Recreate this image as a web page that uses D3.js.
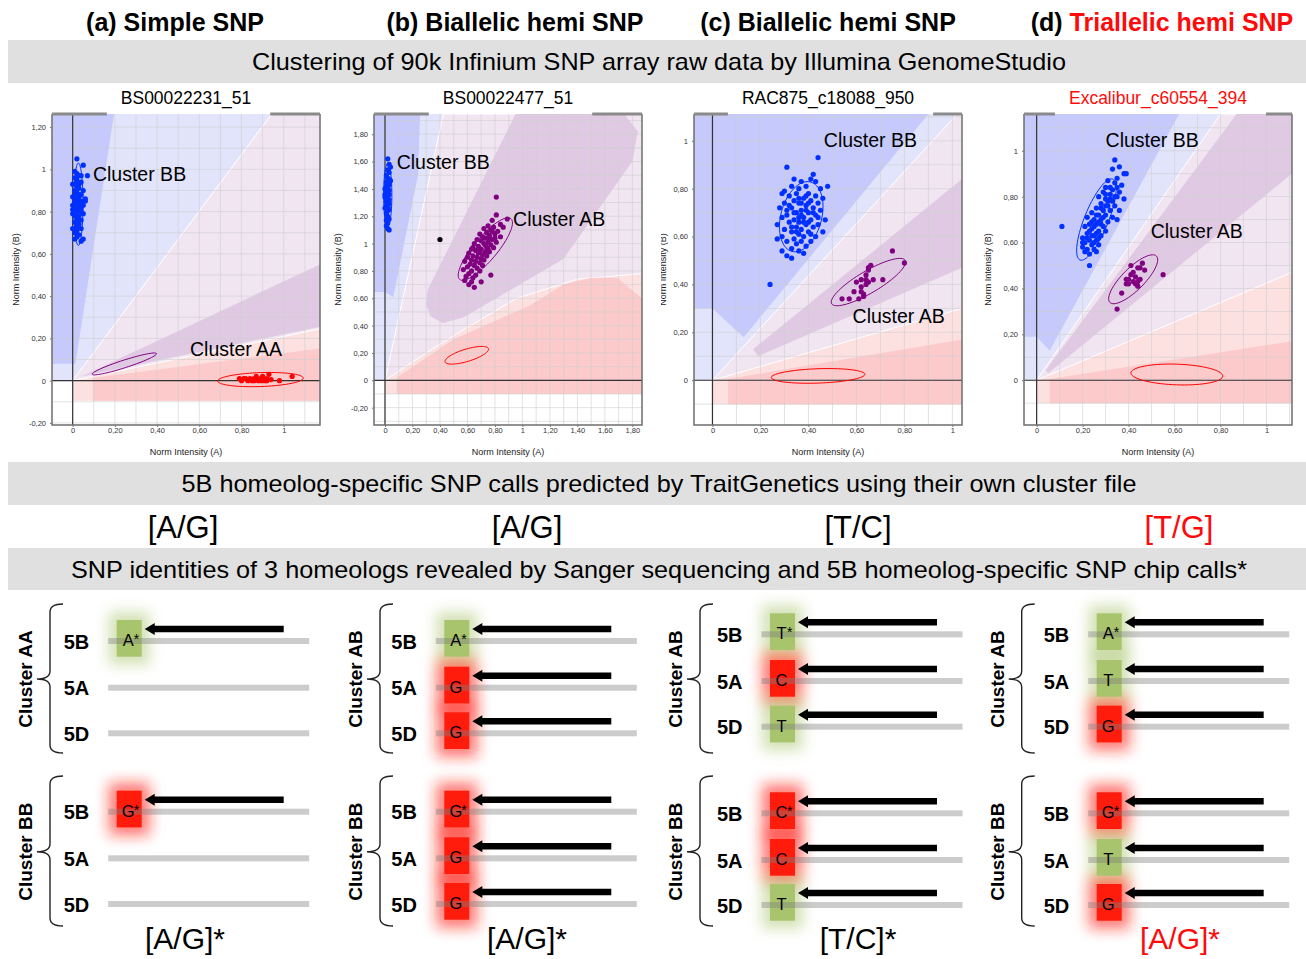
<!DOCTYPE html>
<html>
<head>
<meta charset="utf-8">
<script src="https://cdn.jsdelivr.net/npm/d3@7"></script>
<style>
  body { margin: 0; background: #fff; }
  svg { display: block; font-family: "Liberation Sans", Arial, sans-serif; }
</style>
</head>
<body>
<svg id="fig" width="1306" height="959"></svg>
<script>
// ---- data ----
const snpTypes = ['Simple SNP', 'Biallelic hemi SNP', 'Biallelic hemi SNP', 'Triallelic hemi SNP'];
const panelTags = ['(a)', '(b)', '(c)', '(d)'];
const markerNames = ['BS00022231_51', 'BS00022477_51', 'RAC875_c18088_950', 'Excalibur_c60554_394'];
const highlighted = [false, false, false, true];
const predictedCalls = ['[A/G]', '[A/G]', '[T/C]', '[T/G]'];
const confirmedCalls = ['[A/G]*', '[A/G]*', '[T/C]*', '[A/G]*'];
const homeologs = ['5B', '5A', '5D'];
const groupNames = [['Cluster AA', 'Cluster BB'], ['Cluster AB', 'Cluster BB'], ['Cluster AB', 'Cluster BB'], ['Cluster AB', 'Cluster BB']];
const sangerCalls = [
  [['A*', null, null], ['G*', null, null]],
  [['A*', 'G', 'G'], ['G*', 'G', 'G']],
  [['T*', 'C', 'T'], ['C*', 'C', 'T']],
  [['A*', 'T', 'G'], ['G*', 'T', 'G']]
];
const bandTexts = [
  'Clustering of 90k Infinium SNP array raw data by Illumina GenomeStudio',
  '5B homeolog-specific SNP calls predicted by TraitGenetics using their own cluster file',
  'SNP identities of 3 homeologs revealed by Sanger sequencing and 5B homeolog-specific SNP chip calls*'
];

const xTicks = [
  [0, 0.2, 0.4, 0.6, 0.8, 1],
  [0, 0.2, 0.4, 0.6, 0.8, 1, 1.2, 1.4, 1.6, 1.8],
  [0, 0.2, 0.4, 0.6, 0.8, 1],
  [0, 0.2, 0.4, 0.6, 0.8, 1]
];
const yTicks = [
  [-0.2, 0, 0.2, 0.4, 0.6, 0.8, 1, 1.2],
  [-0.2, 0, 0.2, 0.4, 0.6, 0.8, 1, 1.2, 1.4, 1.6, 1.8],
  [0, 0.2, 0.4, 0.6, 0.8, 1],
  [0, 0.2, 0.4, 0.6, 0.8, 1]
];

// GenomeStudio call regions (norm A, norm B)
const regions = [
  { lightBlue: [[-0.098, 0], [0, 0], [0.943, 1.262], [-0.098, 1.262]],
    lightPurple: [[0, 0], [0.943, 1.262], [1.172, 1.262], [1.172, 0.245]],
    lightPink: [[0, 0], [1.172, 0.245], [1.172, -0.095], [0, -0.095]],
    darkBlue: [[-0.098, 1.262], [0.196, 1.262], [0.013, 0.08], [-0.098, 0.08]],
    darkPurple: [[0.04, 0.02], [1.172, 0.55], [1.172, 0.255]],
    darkPink: [[0.095, -0.095], [0.095, 0.012], [1.172, 0.152], [1.172, -0.095]] },
  { lightBlue: [[-0.08, 0], [0, 0], [0.425, 1.948], [-0.08, 1.948]],
    lightPurple: [[0, 0], [0.425, 1.948], [1.87, 1.948], [1.87, 0.78], [1.4, 0.74], [0.96, 0.6], [0.57, 0.37], [0.3, 0.2]],
    lightPink: [[0, 0], [0.3, 0.2], [0.57, 0.37], [0.96, 0.6], [1.4, 0.74], [1.87, 0.78], [1.87, -0.1], [0, -0.1]],
    darkBlue: [[-0.08, 1.948], [0.255, 1.948], [0.24, 1.5], [0.06, 0.61], [0, 0.645], [-0.08, 0.645]],
    darkPurple: [[0.42, 0.42], [0.33, 0.47], [0.3, 0.55], [0.31, 0.66], [0.95, 1.948], [1.74, 1.948], [1.84, 1.82], [1.8, 1.6], [1.3, 0.89], [0.81, 0.6], [0.57, 0.46]],
    darkPink: [[0.085, -0.1], [0.085, 0.02], [0.5, 0.3], [1.06, 0.55], [1.3, 0.7], [1.5, 0.75], [1.69, 0.75], [1.87, 0.6], [1.87, -0.1]] },
  { lightBlue: [[-0.077, 0], [0, 0], [1.02, 1.112], [-0.077, 1.112]],
    lightPurple: [[0, 0], [1.02, 1.112], [1.04, 1.112], [1.04, 0.3]],
    lightPink: [[0, 0], [1.04, 0.3], [1.04, -0.1], [0, -0.1]],
    darkBlue: [[-0.077, 1.112], [0.9, 1.112], [0.13, 0.18], [0, 0.3], [-0.077, 0.3]],
    darkPurple: [[0.17, 0.13], [1.04, 0.84], [1.04, 0.47], [0.19, 0.1]],
    darkPink: [[0.065, -0.1], [0.065, 0.005], [1.04, 0.17], [1.04, -0.1]] },
  { lightBlue: [[-0.055, 0], [0, 0], [0.8, 1.16], [-0.055, 1.16]],
    lightPurple: [[0, 0], [0.8, 1.16], [1.111, 1.16], [1.111, 0.47]],
    lightPink: [[0, 0], [1.111, 0.47], [1.111, -0.1], [0, -0.1]],
    darkBlue: [[-0.055, 1.16], [0.62, 1.16], [0.057, 0.13], [0, 0.19], [-0.055, 0.19]],
    darkPurple: [[0.04, 0.045], [0.87, 1.16], [1.111, 1.16], [1.111, 0.9], [0.05, 0.03]],
    darkPink: [[0.057, -0.1], [0.057, 0.005], [1.111, 0.17], [1.111, -0.1]] }
];

// cluster ellipses: centre, semi-axes, tilt (deg)
const ellipses = [
  [{ g: 'BB', cx: 0.027, cy: 0.835, rx: 0.022, ry: 0.195, angle: 0 },
   { g: 'AB', cx: 0.245, cy: 0.079, rx: 0.16, ry: 0.018, angle: 17.8 },
   { g: 'AA', cx: 0.89, cy: 0.005, rx: 0.203, ry: 0.033, angle: 2 }],
  [{ g: 'BB', cx: 0.02, cy: 1.355, rx: 0.03, ry: 0.23, angle: 0 },
   { g: 'AB', cx: 0.73, cy: 0.96, rx: 0.29, ry: 0.085, angle: 50 },
   { g: 'AA', cx: 0.595, cy: 0.183, rx: 0.165, ry: 0.045, angle: 17 }],
  [{ g: 'BB', cx: 0.37, cy: 0.683, rx: 0.15, ry: 0.085, angle: 75 },
   { g: 'AB', cx: 0.65, cy: 0.41, rx: 0.178, ry: 0.046, angle: 30.6 },
   { g: 'AA', cx: 0.44, cy: 0.018, rx: 0.195, ry: 0.03, angle: 2 }],
  [{ g: 'BB', cx: 0.26, cy: 0.7, rx: 0.19, ry: 0.052, angle: 68 },
   { g: 'AB', cx: 0.42, cy: 0.44, rx: 0.143, ry: 0.048, angle: 45 },
   { g: 'AA', cx: 0.61, cy: 0.025, rx: 0.2, ry: 0.045, angle: -2 }]
];

const bbPointsA = [[0.02,1.05],[0.05,1.02],[0.07,0.97],[0.01,0.99],[0.03,0.97],[0.02,0.95],[0.04,0.94],[0.0,0.93],[0.02,0.92],[0.03,0.91],[0.05,0.9],[0.01,0.9],[0.02,0.89],[0.04,0.88],[0.0,0.87],[0.03,0.87],[0.02,0.86],[0.06,0.85],[0.04,0.85],[0.01,0.85],[0.03,0.84],[0.0,0.83],[0.02,0.83],[0.05,0.83],[0.01,0.82],[0.03,0.81],[0.04,0.8],[0.02,0.8],[0.0,0.79],[0.05,0.79],[0.01,0.78],[0.03,0.78],[0.02,0.77],[0.04,0.76],[0.01,0.75],[0.03,0.74],[0.02,0.73],[0.0,0.72],[0.04,0.72],[0.02,0.71],[0.01,0.7],[0.03,0.69],[0.02,0.68],[0.01,0.67],[0.05,0.67],[0.04,0.66],[0.02,0.94],[0.03,0.88],[0.01,0.96],[0.02,0.84],[0.06,0.86],[0.03,0.76],[0.02,0.74],[0.0,0.81],[0.04,0.82],[0.01,0.88],[0.03,0.93],[0.02,0.98],[0.04,0.97]];
const aaPointsA = [[0.79,0.01],[0.8,0.0],[0.82,0.01],[0.84,0.01],[0.85,0.0],[0.86,0.01],[0.87,0.02],[0.88,0.0],[0.88,0.01],[0.89,0.005],[0.9,0.01],[0.91,0.0],[0.92,0.01],[0.93,0.03],[0.94,0.005],[0.86,0.0],[0.9,0.02],[0.98,0.0],[1.04,0.02],[0.83,0.0],[0.895,0.0],[0.92,0.0],[0.87,0.005],[0.81,0.01]];

const bbPointsB = [[0.02,1.62],[0.03,1.58],[0.04,1.56],[0.02,1.54],[0.03,1.52],[0.01,1.5],[0.02,1.48],[0.03,1.47],[0.01,1.45],[0.02,1.44],[0.03,1.43],[0.01,1.42],[0.02,1.41],[0.0,1.4],[0.03,1.39],[0.02,1.38],[0.01,1.37],[0.03,1.36],[0.02,1.35],[0.0,1.34],[0.02,1.33],[0.03,1.32],[0.01,1.31],[0.02,1.3],[0.03,1.29],[0.01,1.28],[0.02,1.27],[0.0,1.26],[0.03,1.25],[0.02,1.24],[0.01,1.22],[0.02,1.2],[0.03,1.18],[0.01,1.17],[0.02,1.15],[0.01,1.13],[0.02,1.11],[0.03,1.1],[0.04,1.46],[0.0,1.36]];
const abPointsB = [[0.81,1.34],[0.81,1.21],[0.89,1.18],[0.78,1.17],[0.84,1.14],[0.75,1.13],[0.79,1.12],[0.86,1.12],[0.72,1.11],[0.77,1.1],[0.82,1.09],[0.74,1.08],[0.69,1.07],[0.8,1.07],[0.76,1.06],[0.71,1.05],[0.84,1.05],[0.73,1.04],[0.78,1.03],[0.67,1.03],[0.7,1.02],[0.75,1.01],[0.81,1.01],[0.65,1.0],[0.72,1.0],[0.77,0.99],[0.68,0.98],[0.74,0.97],[0.79,0.97],[0.63,0.96],[0.7,0.96],[0.66,0.95],[0.73,0.94],[0.76,0.94],[0.61,0.93],[0.68,0.93],[0.71,0.92],[0.64,0.91],[0.74,0.91],[0.67,0.9],[0.6,0.9],[0.7,0.89],[0.63,0.88],[0.72,0.88],[0.66,0.87],[0.58,0.87],[0.69,0.86],[0.62,0.85],[0.65,0.84],[0.71,0.84],[0.6,0.83],[0.67,0.82],[0.57,0.81],[0.63,0.8],[0.69,0.8],[0.61,0.78],[0.66,0.77],[0.77,0.77],[0.59,0.76],[0.64,0.75],[0.58,0.73],[0.63,0.72],[0.7,0.72],[0.61,0.7],[0.65,0.68],[0.78,1.09],[0.73,0.99],[0.76,1.04],[0.69,0.95],[0.64,0.97],[0.8,1.04],[0.75,0.96]];
const otherPointsB = [[0.4,1.03]];

const bbPointsC = [[0.44,0.93],[0.31,0.89],[0.42,0.86],[0.34,0.84],[0.41,0.84],[0.37,0.83],[0.43,0.83],[0.33,0.81],[0.39,0.81],[0.48,0.81],[0.3,0.79],[0.36,0.8],[0.45,0.8],[0.29,0.78],[0.35,0.78],[0.4,0.78],[0.43,0.77],[0.32,0.77],[0.38,0.76],[0.46,0.76],[0.34,0.75],[0.41,0.75],[0.3,0.74],[0.36,0.74],[0.44,0.74],[0.39,0.73],[0.33,0.72],[0.42,0.72],[0.28,0.72],[0.37,0.71],[0.45,0.71],[0.35,0.7],[0.4,0.7],[0.31,0.69],[0.43,0.69],[0.38,0.68],[0.29,0.68],[0.34,0.67],[0.41,0.67],[0.47,0.67],[0.36,0.66],[0.32,0.66],[0.39,0.65],[0.44,0.65],[0.27,0.65],[0.35,0.64],[0.42,0.64],[0.3,0.63],[0.37,0.63],[0.33,0.62],[0.4,0.62],[0.46,0.62],[0.36,0.61],[0.29,0.6],[0.38,0.6],[0.43,0.6],[0.34,0.59],[0.31,0.58],[0.37,0.58],[0.41,0.58],[0.27,0.59],[0.35,0.57],[0.39,0.56],[0.33,0.55],[0.36,0.54],[0.29,0.54],[0.38,0.53],[0.31,0.52],[0.33,0.51],[0.24,0.4],[0.37,0.69],[0.39,0.71],[0.36,0.76],[0.34,0.7],[0.4,0.74],[0.38,0.66],[0.35,0.62],[0.42,0.7],[0.31,0.71],[0.44,0.68],[0.37,0.74],[0.4,0.66],[0.33,0.64],[0.36,0.68],[0.41,0.61],[0.39,0.77],[0.32,0.73]];
const abPointsC = [[0.54,0.34],[0.57,0.34],[0.61,0.34],[0.59,0.37],[0.62,0.37],[0.62,0.39],[0.63,0.36],[0.6,0.41],[0.62,0.42],[0.64,0.42],[0.64,0.44],[0.65,0.46],[0.65,0.47],[0.66,0.48],[0.64,0.4],[0.65,0.41],[0.67,0.42],[0.71,0.42],[0.75,0.54],[0.8,0.49],[0.63,0.35]];

const bbPointsD = [[0.34,0.96],[0.33,0.92],[0.36,0.93],[0.38,0.9],[0.39,0.9],[0.35,0.88],[0.31,0.87],[0.34,0.86],[0.37,0.85],[0.3,0.84],[0.33,0.83],[0.36,0.82],[0.29,0.82],[0.32,0.81],[0.27,0.8],[0.35,0.8],[0.3,0.79],[0.33,0.78],[0.38,0.79],[0.28,0.77],[0.31,0.76],[0.34,0.76],[0.26,0.75],[0.29,0.74],[0.32,0.74],[0.36,0.74],[0.24,0.73],[0.27,0.72],[0.3,0.72],[0.33,0.71],[0.22,0.71],[0.25,0.7],[0.28,0.7],[0.31,0.69],[0.35,0.7],[0.23,0.68],[0.26,0.68],[0.29,0.67],[0.21,0.67],[0.24,0.66],[0.27,0.65],[0.3,0.65],[0.22,0.64],[0.25,0.63],[0.28,0.63],[0.2,0.62],[0.23,0.61],[0.26,0.61],[0.21,0.6],[0.24,0.59],[0.27,0.59],[0.2,0.58],[0.22,0.57],[0.25,0.57],[0.21,0.56],[0.23,0.55],[0.26,0.56],[0.23,0.5],[0.11,0.67],[0.32,0.84],[0.3,0.81],[0.28,0.75],[0.26,0.72],[0.25,0.67],[0.24,0.63],[0.27,0.69],[0.29,0.71],[0.31,0.78],[0.22,0.62],[0.26,0.64],[0.28,0.68],[0.3,0.76],[0.32,0.79],[0.23,0.65],[0.25,0.6],[0.35,0.84],[0.34,0.8],[0.2,0.6],[0.24,0.69],[0.27,0.62]];
const abPointsD = [[0.35,0.31],[0.37,0.38],[0.39,0.42],[0.4,0.42],[0.41,0.46],[0.42,0.47],[0.42,0.43],[0.43,0.42],[0.44,0.43],[0.44,0.41],[0.45,0.44],[0.41,0.5],[0.44,0.49],[0.45,0.49],[0.46,0.51],[0.47,0.48],[0.4,0.44],[0.55,0.46],[0.43,0.45],[0.39,0.44]];

const pointSets = [
  [{ g: 'BB', pts: bbPointsA }, { g: 'AA', pts: aaPointsA }],
  [{ g: 'BB', pts: bbPointsB }, { g: 'AB', pts: abPointsB }, { g: 'NC', pts: otherPointsB }],
  [{ g: 'BB', pts: bbPointsC }, { g: 'AB', pts: abPointsC }],
  [{ g: 'BB', pts: bbPointsD }, { g: 'AB', pts: abPointsD }]
];

// ---- layout ----
const W = 1306;
const plotRects = [[52, 114, 320, 425], [374, 114, 642, 425], [694, 114, 962, 425], [1024, 114, 1292, 425]];
const xDomains = [[-0.098, 1.172], [-0.08, 1.87], [-0.077, 1.04], [-0.055, 1.111]];
const yDomains = [[-0.21, 1.262], [-0.327, 1.948], [-0.187, 1.112], [-0.195, 1.16]];
const clusterLabels = [
  [{ t: 'Cluster BB', x: 0.096, y: 0.945 }, { t: 'Cluster AA', x: 0.556, y: 0.115 }],
  [{ t: 'Cluster BB', x: 0.085, y: 1.548 }, { t: 'Cluster AB', x: 0.932, y: 1.129 }],
  [{ t: 'Cluster BB', x: 0.464, y: 0.974 }, { t: 'Cluster AB', x: 0.584, y: 0.239 }],
  [{ t: 'Cluster BB', x: 0.3, y: 1.016 }, { t: 'Cluster AB', x: 0.496, y: 0.621 }]
];
const headerX = [175, 515, 828, 1162];
const columnX = [183, 527, 858, 1179];
const summaryX = [185, 527, 858, 1180];
const bracketX = [50, 380, 700, 1021.7];
const boxX = [116.7, 444.3, 770, 1096.7];
const rowY = [
  [[641, 687.7, 733.3], [811.7, 858.3, 904]],
  [[641, 687.7, 733.3], [811.7, 858.3, 904]],
  [[634.3, 681, 726.7], [813.3, 860, 905]],
  [[634.3, 681, 726.7], [813.3, 860, 905]]
];
const bracketY = [[604, 679, 753], [776, 851.7, 926]];

const RED = '#ff0a0a';
const groupColor = { BB: '#0030ff', AB: '#800080', AA: '#ff0000', NC: '#000' };
const regionFill = {
  lightBlue: '#e2e4fc', lightPurple: '#f1e5f2', lightPink: '#fde1e1',
  darkBlue: '#c5c9fb', darkPurple: '#e0cae3', darkPink: '#fccaca'
};
const alleleColor = { A: '#a8c46c', T: '#a8c46c', G: '#ff1c0c', C: '#ff1c0c' };

const svg = d3.select('#fig');
const defs = svg.append('defs');
defs.append('filter').attr('id', 'glow')
  .attr('x', '-100%').attr('y', '-100%').attr('width', '300%').attr('height', '300%')
  .append('feGaussianBlur').attr('stdDeviation', 7);

const fmt = (v) => v === 0 ? '0' : v === 1 ? '1' : v.toFixed(2).replace('.', ',');

// headers
headerX.forEach((cx, i) => {
  const t = svg.append('text')
    .attr('x', cx).attr('y', 31)
    .attr('text-anchor', 'middle')
    .attr('font-weight', 'bold')
    .attr('font-size', 25);
  t.append('tspan').text(panelTags[i] + ' ');
  t.append('tspan').attr('fill', highlighted[i] ? RED : '#000').text(snpTypes[i]);
});

// grey bands
const bands = [[40, 83, 814], [462, 505, 955], [548, 590, 1176]];
bands.forEach(([y0, y1, len], i) => {
  svg.append('rect').attr('x', 8).attr('y', y0).attr('width', W - 8).attr('height', y1 - y0).attr('fill', '#e0e0e0');
  svg.append('text')
    .attr('x', 659).attr('y', (y0 + y1) / 2 + 8.5)
    .attr('text-anchor', 'middle')
    .attr('font-size', 24)
    .attr('textLength', len).attr('lengthAdjust', 'spacingAndGlyphs')
    .text(bandTexts[i]);
});

function ellipsePath (e, x, y) {
  const a = e.angle * Math.PI / 180;
  const pts = d3.range(0, 73).map((k) => {
    const t = k / 72 * 2 * Math.PI;
    return [
      e.cx + e.rx * Math.cos(t) * Math.cos(a) - e.ry * Math.sin(t) * Math.sin(a),
      e.cy + e.rx * Math.cos(t) * Math.sin(a) + e.ry * Math.sin(t) * Math.cos(a)
    ];
  });
  return d3.line().x((d) => x(d[0])).y((d) => y(d[1]))(pts);
}

function drawScatter (i) {
  const [x0, y0, x1, y1] = plotRects[i];
  const x = d3.scaleLinear().domain(xDomains[i]).range([x0, x1]);
  const y = d3.scaleLinear().domain(yDomains[i]).range([y1, y0]);
  const poly = d3.line().x((d) => x(d[0])).y((d) => y(d[1])).curve(d3.curveLinearClosed);
  const g = svg.append('g');

  defs.append('clipPath').attr('id', 'clip' + i)
    .append('rect').attr('x', x0).attr('y', y0).attr('width', x1 - x0).attr('height', y1 - y0);
  const inner = g.append('g').attr('clip-path', 'url(#clip' + i + ')');

  const r = regions[i];
  ['lightBlue', 'lightPink', 'lightPurple', 'darkBlue', 'darkPurple', 'darkPink'].forEach((k) => {
    inner.append('path').attr('d', poly(r[k])).attr('fill', regionFill[k])
      .attr('stroke', k === 'lightPurple' ? '#fff' : 'none').attr('stroke-width', 1);
  });

  // grid every 0.1
  const gx = d3.range(Math.ceil(xDomains[i][0] * 10), Math.floor(xDomains[i][1] * 10) + 1).map((k) => k / 10);
  const gy = d3.range(Math.ceil(yDomains[i][0] * 10), Math.floor(yDomains[i][1] * 10) + 1).map((k) => k / 10);
  inner.selectAll('line.gx').data(gx).enter().append('line')
    .attr('x1', (d) => x(d)).attr('x2', (d) => x(d)).attr('y1', y0).attr('y2', y1)
    .attr('stroke', '#cfcfcf').attr('stroke-opacity', 0.6);
  inner.selectAll('line.gy').data(gy).enter().append('line')
    .attr('y1', (d) => y(d)).attr('y2', (d) => y(d)).attr('x1', x0).attr('x2', x1)
    .attr('stroke', '#cfcfcf').attr('stroke-opacity', 0.6);

  // zero axes
  inner.append('line').attr('x1', x(0)).attr('x2', x(0)).attr('y1', y0).attr('y2', y1).attr('stroke', '#333').attr('stroke-width', 1.2);
  inner.append('line').attr('y1', y(0)).attr('y2', y(0)).attr('x1', x0).attr('x2', x1).attr('stroke', '#333').attr('stroke-width', 1.2);

  // cluster ellipses
  inner.selectAll('path.ell').data(ellipses[i]).enter().append('path')
    .attr('d', (e) => ellipsePath(e, x, y))
    .attr('fill', 'none').attr('stroke', (e) => groupColor[e.g]).attr('stroke-width', 1);

  // samples
  pointSets[i].forEach((set) => {
    inner.selectAll(null).data(set.pts).enter().append('circle')
      .attr('cx', (d) => x(d[0])).attr('cy', (d) => y(d[1])).attr('r', 2.6)
      .attr('fill', groupColor[set.g]);
  });

  clusterLabels[i].forEach((l) => {
    g.append('text').attr('x', x(l.x)).attr('y', y(l.y)).attr('font-size', 19.5).text(l.t);
  });

  // frame
  g.append('path').attr('d', `M${x0},${y0}V${y1}H${x1}V${y0}`)
    .attr('fill', 'none').attr('stroke', '#6e6e6e').attr('stroke-width', 1.5);

  // marker name + tab segments
  const title = g.append('text').attr('x', (x0 + x1) / 2).attr('y', 104)
    .attr('text-anchor', 'middle').attr('font-size', 17.5)
    .attr('fill', highlighted[i] ? RED : '#000').text(markerNames[i]);
  const tw = title.node().getComputedTextLength();
  const tl = (x0 + x1) / 2 - tw / 2, tr = (x0 + x1) / 2 + tw / 2;
  g.append('rect').attr('x', x0).attr('y', y0 - 1.5).attr('width', tl - 14 - x0).attr('height', 3).attr('fill', '#8a8a8a');
  g.append('rect').attr('x', tr + 19).attr('y', y0 - 1.5).attr('width', x1 - tr - 19).attr('height', 3).attr('fill', '#8a8a8a');

  // axes
  const xAxis = d3.axisBottom(x).tickValues(xTicks[i]).tickFormat(fmt).tickSize(2).tickPadding(1);
  const yAxis = d3.axisLeft(y).tickValues(yTicks[i]).tickFormat(fmt).tickSize(2).tickPadding(4);
  [g.append('g').attr('transform', `translate(0,${y1})`).call(xAxis),
   g.append('g').attr('transform', `translate(${x0},0)`).call(yAxis)].forEach((ax) => {
    ax.select('.domain').remove();
    ax.selectAll('.tick line').attr('stroke', '#777');
    ax.selectAll('.tick text').attr('font-size', 7.5).attr('fill', '#333')
      .attr('font-family', '"Liberation Sans", Arial, sans-serif');
  });

  g.append('text').attr('x', (x0 + x1) / 2).attr('y', 455).attr('text-anchor', 'middle')
    .attr('font-size', 9).attr('fill', '#222').text('Norm Intensity (A)');

  let yl = g;
  if (i === 2) {
    defs.append('clipPath').attr('id', 'ylabclip')
      .append('rect').attr('x', 661).attr('y', 0).attr('width', 40).attr('height', 959);
    yl = g.append('g').attr('clip-path', 'url(#ylabclip)');
  }
  const lx = i === 2 ? x0 - 28 : x0 - 33;
  yl.append('text').attr('transform', `translate(${lx},${(y0 + y1) / 2}) rotate(-90)`)
    .attr('text-anchor', 'middle').attr('font-size', 9).attr('fill', '#222').text('Norm Intensity (B)');
}

function drawBrace (g, bx, [top, mid, bot]) {
  const p = d3.path();
  p.moveTo(bx + 13, top);
  p.quadraticCurveTo(bx, top, bx, top + 8);
  p.lineTo(bx, mid - 8);
  p.quadraticCurveTo(bx, mid, bx - 13, mid);
  p.quadraticCurveTo(bx, mid, bx, mid + 8);
  p.lineTo(bx, bot - 8);
  p.quadraticCurveTo(bx, bot, bx + 13, bot);
  g.append('path').attr('d', p.toString()).attr('fill', 'none').attr('stroke', '#222').attr('stroke-width', 1.4);
}

function drawSanger (i) {
  const g = svg.append('g');
  const bx = boxX[i];
  const glowLayer = g.append('g').attr('filter', 'url(#glow)');
  const boxLayer = g.append('g');
  const lineLayer = g.append('g');
  const textLayer = g.append('g');

  sangerCalls[i].forEach((calls, gi) => {
    drawBrace(g, bracketX[i], bracketY[gi]);
    g.append('text')
      .attr('transform', `translate(${bracketX[i] - 18},${bracketY[gi][1]}) rotate(-90)`)
      .attr('text-anchor', 'middle').attr('font-weight', 'bold').attr('font-size', 19)
      .text(groupNames[i][gi]);

    calls.forEach((call, ri) => {
      const ly = rowY[i][gi][ri];
      textLayer.append('text').attr('x', bx - 53).attr('y', ly + 7.5)
        .attr('font-weight', 'bold').attr('font-size', 20).text(homeologs[ri]);
      lineLayer.append('rect').attr('x', bx - 8.5).attr('y', ly - 3).attr('width', 201).attr('height', 6)
        .attr('fill', '#808080').attr('fill-opacity', 0.4);
      if (!call) return;
      const base = call[0];
      const col = alleleColor[base];
      glowLayer.append('rect').attr('x', bx - 8).attr('y', ly - 29).attr('width', 41).attr('height', 52.7)
        .attr('fill', col).attr('opacity', base === 'G' || base === 'C' ? 0.6 : 0.5);
      boxLayer.append('rect').attr('x', bx).attr('y', ly - 21).attr('width', 25).attr('height', 36.7).attr('fill', col);
      textLayer.append('text').attr('x', bx + 11.5).attr('y', ly + 5)
        .attr('text-anchor', 'middle').attr('font-size', 16.5).text(base);
      if (call.length > 1) {
        textLayer.append('text').attr('x', bx + 17).attr('y', ly + 3)
          .attr('font-size', 14).text('*');
      }
      // sequencing read arrow
      const ay = ly - 12, tip = bx + 28, end = bx + 167;
      textLayer.append('path')
        .attr('d', `M${tip},${ay}L${tip + 10},${ay - 6}L${tip + 10},${ay - 3.2}L${end},${ay - 3.2}L${end},${ay + 3.2}L${tip + 10},${ay + 3.2}L${tip + 10},${ay + 6}Z`)
        .attr('fill', '#000');
    });
  });

  svg.append('text').attr('x', columnX[i]).attr('y', 538).attr('text-anchor', 'middle')
    .attr('font-size', 31).attr('fill', highlighted[i] ? RED : '#000').text(predictedCalls[i]);
  svg.append('text').attr('x', summaryX[i]).attr('y', 949).attr('text-anchor', 'middle')
    .attr('font-size', 30).attr('fill', highlighted[i] ? RED : '#000').text(confirmedCalls[i]);
}

d3.range(4).forEach((i) => { drawScatter(i); drawSanger(i); });
</script>
</body>
</html>
